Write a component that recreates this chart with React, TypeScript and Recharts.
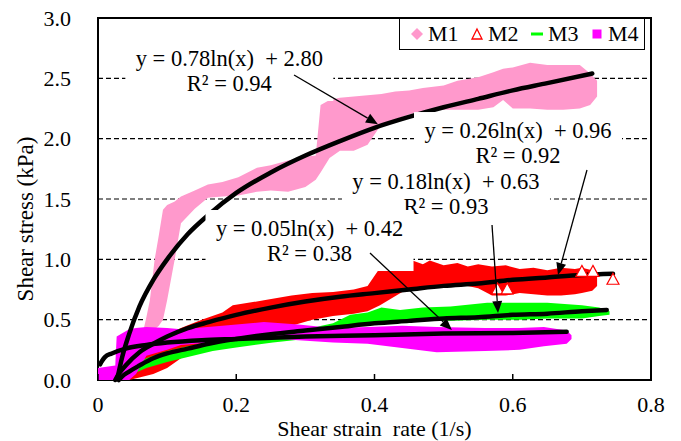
import React from "react";
import {
  ComposedChart,
  Area,
  Line,
  Scatter,
  XAxis,
  YAxis,
  CartesianGrid,
  ReferenceArea,
  ReferenceLine,
  ReferenceDot,
} from "recharts";

const FONT = '"Liberation Serif", "Times New Roman", Times, serif';

// ---- values ----
const xTicks = [0, 0.2, 0.4, 0.6, 0.8];
const yTicks = [0, 0.5, 1.0, 1.5, 2.0, 2.5, 3.0];
const seriesNames = ["M1", "M2", "M3", "M4"];

// M1 point cloud (lower / upper edge of the band)
const m1X = [0.05, 0.066, 0.07, 0.075, 0.082, 0.088, 0.094, 0.1, 0.111, 0.12, 0.14, 0.159, 0.18, 0.203, 0.23, 0.25, 0.275, 0.3, 0.315, 0.322, 0.335, 0.35, 0.37, 0.39, 0.41, 0.43, 0.45, 0.47, 0.5, 0.52, 0.55, 0.572, 0.586, 0.6, 0.625, 0.65, 0.673, 0.697, 0.712, 0.722];
const m1Lo = [0.3, 0.38, 0.4, 0.4, 0.42, 0.45, 0.5, 0.66, 1.0, 1.3, 1.42, 1.51, 1.52, 1.53, 1.56, 1.57, 1.56, 1.6, 1.66, 1.72, 1.84, 1.9, 1.9, 1.95, 2.12, 2.16, 2.2, 2.23, 2.24, 2.24, 2.24, 2.26, 2.32, 2.25, 2.25, 2.24, 2.24, 2.25, 2.28, 2.35];
const m1Hi = [0.32, 0.42, 0.52, 0.66, 1.0, 1.2, 1.41, 1.45, 1.48, 1.52, 1.57, 1.62, 1.64, 1.68, 1.76, 1.78, 1.82, 1.85, 1.86, 2.28, 2.32, 2.34, 2.35, 2.36, 2.37, 2.39, 2.4, 2.42, 2.44, 2.48, 2.51, 2.55, 2.58, 2.59, 2.63, 2.61, 2.61, 2.61, 2.54, 2.48];

// M2 point cloud
const m2X = [0.035, 0.045, 0.06, 0.08, 0.1, 0.12, 0.15, 0.18, 0.195, 0.24, 0.28, 0.31, 0.34, 0.37, 0.39, 0.408, 0.44, 0.455, 0.47, 0.48, 0.5, 0.52, 0.535, 0.55, 0.57, 0.59, 0.61, 0.63, 0.65, 0.67, 0.69, 0.7, 0.715, 0.722];
const m2Lo = [0.0, 0.0, 0.02, 0.05, 0.1, 0.18, 0.26, 0.32, 0.35, 0.4, 0.45, 0.5, 0.53, 0.55, 0.57, 0.62, 0.73, 0.76, 0.77, 0.77, 0.78, 0.78, 0.78, 0.76, 0.7, 0.7, 0.72, 0.71, 0.7, 0.7, 0.71, 0.72, 0.74, 0.78];
const m2Hi = [0.05, 0.15, 0.24, 0.32, 0.38, 0.43, 0.5, 0.56, 0.62, 0.66, 0.7, 0.72, 0.73, 0.75, 0.78, 0.93, 0.93, 0.99, 0.96, 0.99, 0.95, 0.97, 0.94, 0.96, 0.94, 0.95, 0.92, 0.93, 0.91, 0.93, 0.92, 0.93, 0.91, 0.88];
// M2 single markers standing out of the band
const m2PtX = [0.578, 0.592, 0.7, 0.716, 0.745];
const m2PtY = [0.755, 0.755, 0.9, 0.9, 0.835];

// M3 point cloud
const m3X = [0.035, 0.05, 0.07, 0.1, 0.13, 0.166, 0.2, 0.253, 0.3, 0.34, 0.365, 0.39, 0.41, 0.437, 0.47, 0.51, 0.563, 0.61, 0.65, 0.7, 0.725, 0.74];
const m3Lo = [0.0, 0.05, 0.1, 0.15, 0.19, 0.24, 0.27, 0.31, 0.34, 0.4, 0.44, 0.46, 0.47, 0.48, 0.49, 0.49, 0.5, 0.5, 0.51, 0.51, 0.53, 0.54];
const m3Hi = [0.06, 0.12, 0.18, 0.24, 0.28, 0.32, 0.35, 0.38, 0.42, 0.47, 0.54, 0.56, 0.6, 0.58, 0.6, 0.61, 0.64, 0.64, 0.64, 0.62, 0.6, 0.57];

// M4 point cloud
const m4X = [0.0, 0.025, 0.027, 0.045, 0.055, 0.07, 0.1, 0.12, 0.18, 0.24, 0.29, 0.34, 0.39, 0.44, 0.49, 0.56, 0.61, 0.645, 0.678, 0.685];
const m4Lo = [0.0, 0.0, 0.0, 0.0, 0.05, 0.2, 0.25, 0.29, 0.32, 0.35, 0.33, 0.31, 0.3, 0.265, 0.23, 0.24, 0.25, 0.28, 0.3, 0.34];
const m4Hi = [0.1, 0.12, 0.36, 0.42, 0.43, 0.44, 0.43, 0.42, 0.45, 0.48, 0.46, 0.43, 0.44, 0.45, 0.44, 0.43, 0.43, 0.44, 0.41, 0.37];

// trend lines as drawn
const fit1X = [0.028, 0.035, 0.045, 0.06, 0.08, 0.1, 0.13, 0.16, 0.2, 0.25, 0.3, 0.35, 0.4, 0.45, 0.5, 0.55, 0.6, 0.65, 0.715];
const fit1Y = [0.01, 0.19, 0.38, 0.61, 0.83, 1.0, 1.21, 1.37, 1.55, 1.72, 1.86, 1.98, 2.09, 2.18, 2.26, 2.33, 2.4, 2.46, 2.54];
const fit2X = [0.025, 0.03, 0.04, 0.06, 0.08, 0.1, 0.13, 0.16, 0.2, 0.25, 0.3, 0.35, 0.4, 0.45, 0.5, 0.55, 0.6, 0.65, 0.7, 0.745];
const fit2Y = [0.0, 0.05, 0.12, 0.23, 0.3, 0.36, 0.43, 0.48, 0.54, 0.6, 0.65, 0.69, 0.72, 0.75, 0.78, 0.8, 0.83, 0.85, 0.87, 0.88];
const fit3X = [0.03, 0.035, 0.045, 0.06, 0.08, 0.1, 0.13, 0.16, 0.2, 0.25, 0.3, 0.35, 0.4, 0.45, 0.5, 0.55, 0.6, 0.65, 0.7, 0.736];
const fit3Y = [0.0, 0.03, 0.07, 0.12, 0.18, 0.22, 0.26, 0.3, 0.34, 0.38, 0.41, 0.44, 0.47, 0.49, 0.51, 0.52, 0.54, 0.55, 0.57, 0.58];
const fit4X = [0.003, 0.006, 0.01, 0.02, 0.04, 0.07, 0.1, 0.15, 0.2, 0.3, 0.4, 0.5, 0.6, 0.678];
const fit4Y = [0.13, 0.16, 0.19, 0.22, 0.26, 0.29, 0.31, 0.33, 0.34, 0.36, 0.37, 0.385, 0.39, 0.4];

// trend line equations
const eqText = [
  ["y = 0.78ln(x)\u00A0 + 2.80", "R² = 0.94"],
  ["y = 0.26ln(x)\u00A0 + 0.96", "R² = 0.92"],
  ["y = 0.18ln(x)\u00A0 + 0.63", "R² = 0.93"],
  ["y = 0.05ln(x)\u00A0 + 0.42", "R² = 0.38"],
];

// ---- annotation anchors (data units) ----
const eqAt = [
  { x: 0.19, y: 2.565 },
  { x: 0.6076, y: 1.968 },
  { x: 0.5034, y: 1.546 },
  { x: 0.306, y: 1.156 },
];
const arrows = [
  [{ x: 0.2836, y: 2.528 }, { x: 0.405, y: 2.12 }],
  [{ x: 0.7074, y: 1.74 }, { x: 0.6655, y: 0.87 }],
  [{ x: 0.57, y: 1.284 }, { x: 0.5787, y: 0.555 }],
  [{ x: 0.3935, y: 1.052 }, { x: 0.512, y: 0.414 }],
];

const COLORS = ["#FF99CC", "#FF0000", "#00FF00", "#FF00FF"];
const TICK_GAP = 16;

const band = (xs: number[], lo: number[], hi: number[]) =>
  xs.map((x, i) => ({ x, range: [lo[i], hi[i]] }));
const pts = (xs: number[], ys: number[]) => xs.map((x, i) => ({ x, y: ys[i] }));

const bands = [band(m1X, m1Lo, m1Hi), band(m2X, m2Lo, m2Hi), band(m3X, m3Lo, m3Hi), band(m4X, m4Lo, m4Hi)];
const fits = [pts(fit1X, fit1Y), pts(fit2X, fit2Y), pts(fit3X, fit3Y), pts(fit4X, fit4Y)];
const m2Points = pts(m2PtX, m2PtY);

const XTick = (props: any) => {
  const { x, y, payload } = props;
  return (
    <g>
      <line x1={x} x2={x} y1={y - TICK_GAP} y2={y - TICK_GAP - 6} stroke="#000" strokeWidth={1.5} />
      <text x={x} y={y} dy="0.71em" textAnchor="middle" fill="#000" fontSize={22} fontFamily={FONT}>
        {payload.value}
      </text>
    </g>
  );
};

const Triangle = (props: any) => {
  const { cx, cy } = props;
  return (
    <path
      d={`M${cx},${cy - 6} L${cx + 6},${cy + 5} L${cx - 6},${cy + 5} Z`}
      fill="#fff"
      stroke="#FF0000"
      strokeWidth={1.2}
    />
  );
};

const eqBox = (lines: string[]) => (p: any) => {
  const { cx, cy } = p;
  return (
    <g>
      <rect x={cx - 104} y={cy - 30.5} width={208} height={61} fill="#fff" />
      <text x={cx} y={cy - 12.5} dy="0.35em" textAnchor="middle" fontSize={22.5} fill="#000" fontFamily={FONT}>
        {lines[0]}
      </text>
      <text x={cx} y={cy + 12.5} dy="0.35em" textAnchor="middle" fontSize={22.5} fill="#000" fontFamily={FONT}>
        {lines[1]}
      </text>
    </g>
  );
};

const Arrow = (p: any) => {
  const { x1, y1, x2, y2 } = p;
  const a = Math.atan2(y2 - y1, x2 - x1);
  const len = 12;
  const half = 5;
  const bx = x2 - len * Math.cos(a);
  const by = y2 - len * Math.sin(a);
  const ox = -Math.sin(a) * half;
  const oy = Math.cos(a) * half;
  return (
    <g>
      <line x1={x1} y1={y1} x2={bx} y2={by} stroke="#000" strokeWidth={1.3} />
      <polygon points={`${x2},${y2} ${bx + ox},${by + oy} ${bx - ox},${by - oy}`} fill="#000" />
    </g>
  );
};

const YTitle = (p: any) => {
  const { x, y, height } = p.viewBox;
  const cx = x + 25;
  const cy = y + height / 2 + 20;
  return (
    <text
      x={cx}
      y={cy}
      dy="0.35em"
      textAnchor="middle"
      transform={`rotate(-90, ${cx}, ${cy})`}
      fontSize={23}
      fill="#000"
      fontFamily={FONT}
    >
      Shear stress (kPa)
    </text>
  );
};

const LegendIcon = ({ i }: { i: number }) => (
  <svg width={14} height={14} style={{ display: "block" }}>
    {i === 0 && <polygon points="7,1 13,7 7,13 1,7" fill={COLORS[0]} />}
    {i === 1 && <polygon points="7,2 12,12 2,12" fill="#fff" stroke={COLORS[1]} strokeWidth={1.3} />}
    {i === 2 && <rect x={1} y={5.5} width={12} height={3} fill={COLORS[2]} />}
    {i === 3 && <rect x={2.5} y={2.5} width={9} height={9} fill={COLORS[3]} />}
  </svg>
);

export default function App() {
  return (
    <div
      style={{
        position: "absolute",
        left: 0,
        top: 0,
        width: 681,
        height: 441,
        background: "#fff",
        fontFamily: FONT,
      }}
    >
      <ComposedChart width={681} height={441} margin={{ top: 18, right: 30, bottom: 0, left: 0 }}>
        <CartesianGrid vertical={false} horizontal stroke="#000" strokeWidth={1.2} strokeDasharray="5 3" />
        <XAxis
          type="number"
          dataKey="x"
          domain={[0, 0.8]}
          ticks={xTicks}
          height={61}
          axisLine={false}
          tickLine={false}
          tickSize={0}
          tickMargin={TICK_GAP}
          tick={<XTick />}
          label={{
            value: "Shear strain\u00A0 rate (1/s)",
            position: "insideBottom",
            offset: 5,
            style: { fill: "#000", fontSize: 22, fontFamily: FONT },
          }}
        />
        <YAxis
          type="number"
          domain={[0, 3]}
          ticks={yTicks}
          width={98}
          axisLine={false}
          tickLine={false}
          tickSize={0}
          tickMargin={27}
          tickFormatter={(v: number) => v.toFixed(1)}
          tick={{ fill: "#000", fontSize: 22, fontFamily: FONT }}
          label={{ content: YTitle }}
        />
        <ReferenceArea x1={0} x2={0.8} y1={0} y2={3} fill="none" stroke="#000" strokeWidth={2} />
        {bands.map((d, i) => (
          <Area
            key={seriesNames[i]}
            name={seriesNames[i]}
            data={d}
            dataKey="range"
            type="linear"
            stroke="none"
            fill={COLORS[i]}
            fillOpacity={1}
            isAnimationActive={false}
            activeDot={false}
          />
        ))}
        <Scatter name="M2 pts" data={m2Points} dataKey="y" shape={<Triangle />} isAnimationActive={false} />
        {fits.map((d, i) => (
          <Line
            key={"fit" + i}
            data={d}
            dataKey="y"
            type="monotone"
            stroke="#000"
            strokeWidth={4.5}
            strokeLinecap="round"
            dot={false}
            activeDot={false}
            isAnimationActive={false}
          />
        ))}
        {eqAt.map((p, i) => (
          <ReferenceDot key={"eq" + i} x={p.x} y={p.y} shape={eqBox(eqText[i])} zIndex={1500} />
        ))}
        {arrows.map((s, i) => (
          <ReferenceLine key={"ar" + i} segment={s} shape={Arrow} zIndex={1600} />
        ))}
      </ComposedChart>
      <div
        style={{
          position: "absolute",
          left: 399,
          top: 18,
          width: 246,
          height: 32,
          boxSizing: "border-box",
          border: "1px solid #000",
          background: "#fff",
          display: "flex",
          alignItems: "center",
          fontSize: 22,
          color: "#000",
        }}
      >
        {seriesNames.map((n, i) => (
          <div key={n} style={{ display: "flex", alignItems: "center", width: 60 }}>
            <span style={{ marginLeft: 10, width: 14 }}>
              <LegendIcon i={i} />
            </span>
            <span style={{ marginLeft: 4, lineHeight: "22px" }}>{n}</span>
          </div>
        ))}
      </div>
    </div>
  );
}
